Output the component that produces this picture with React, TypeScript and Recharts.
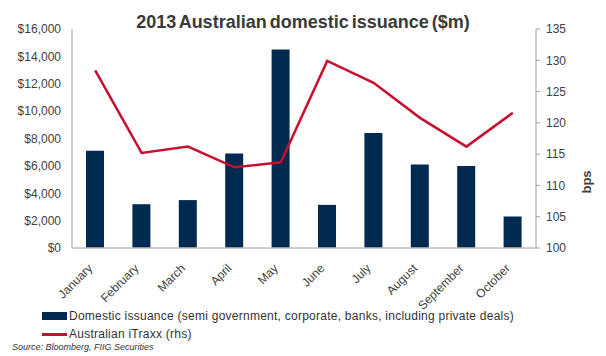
import React from "react";
import { ComposedChart, Bar, Line, XAxis, YAxis } from "recharts";

const months = ["January", "February", "March", "April", "May", "June", "July", "August", "September", "October"];
const issuance = [7100, 3200, 3500, 6900, 14500, 3150, 8400, 6100, 6000, 2300];
const itraxx = [128.4, 115.2, 116.2, 112.9, 113.7, 129.9, 126.4, 120.8, 116.2, 121.6];
const leftTicks = [0, 2000, 4000, 6000, 8000, 10000, 12000, 14000, 16000];
const rightTicks = [100, 105, 110, 115, 120, 125, 130, 135];
const seriesNames = [
  "Domestic issuance (semi government, corporate, banks, including private deals)",
  "Australian iTraxx  (rhs)",
];
const title = "2013 Australian domestic issuance ($m)";
const source = "Source: Bloomberg,  FIIG Securities";

const data = months.map((m, i) => ({ month: m, issuance: issuance[i], itraxx: itraxx[i] }));

const FONT = "'Liberation Sans', Arial, sans-serif";
const NAVY = "#002A4F";
const RED = "#C8102E";

const XTick = (props: any) => {
  const { x, y, payload } = props;
  return (
    <g transform={`translate(${x - 2},${y + 13})`}>
      <text textAnchor="end" transform="rotate(-45)" fontSize={12} fill="#404040" fontFamily={FONT}>
        {payload.value}
      </text>
    </g>
  );
};

export default function App() {
  return (
    <div style={{ position: "absolute", left: 0, top: 0, width: 606, height: 356, background: "#fff", fontFamily: FONT }}>
      <ComposedChart width={606} height={356} data={data} margin={{ top: 29, right: 0, bottom: 48, left: 0 }}>
        <XAxis
          dataKey="month"
          height={60}
          interval={0}
          tick={<XTick />}
          tickLine={false}
          axisLine={{ stroke: "#BFBFBF", strokeWidth: 1.5 }}
        />
        <YAxis
          yAxisId="left"
          width={72}
          domain={[0, 16000]}
          ticks={leftTicks}
          interval={0}
          tickFormatter={(v: number) => "$" + v.toLocaleString("en-US")}
          tickLine={false}
          tickSize={0}
          tickMargin={11}
          axisLine={{ stroke: "#BFBFBF", strokeWidth: 1.5 }}
          tick={{ fontSize: 12, fill: "#404040", fontFamily: FONT }}
        />
        <YAxis
          yAxisId="right"
          orientation="right"
          width={70}
          domain={[100, 135]}
          ticks={rightTicks}
          interval={0}
          tickSize={4}
          tickMargin={6}
          tickLine={{ stroke: "#A0A0A0" }}
          axisLine={{ stroke: "#BFBFBF", strokeWidth: 1.5 }}
          tick={{ fontSize: 12, fill: "#404040", fontFamily: FONT }}
        />
        <Bar yAxisId="left" dataKey="issuance" fill={NAVY} barSize={18} isAnimationActive={false} />
        <Line
          yAxisId="right"
          dataKey="itraxx"
          stroke={RED}
          strokeWidth={2.5}
          dot={false}
          type="linear"
          isAnimationActive={false}
        />
      </ComposedChart>

      <div
        style={{
          position: "absolute",
          left: 0,
          width: 606,
          top: 11,
          textAlign: "center",
          fontSize: 18,
          fontWeight: "bold",
          color: "#3A3A3A",
          wordSpacing: -2,
          lineHeight: "22px",
        }}
      >
        {title}
      </div>

      <div
        style={{
          position: "absolute",
          left: 586,
          top: 182,
          transform: "translate(-50%,-50%) rotate(-90deg)",
          fontSize: 13,
          fontWeight: "bold",
          color: "#404040",
        }}
      >
        bps
      </div>

      <div style={{ position: "absolute", left: 42, top: 307, fontSize: 12, color: "#333", lineHeight: "18px", letterSpacing: 0.25 }}>
        {seriesNames.map((name, i) => (
          <div key={name} style={{ display: "flex", alignItems: "center", height: 18 }}>
            <span
              style={{
                display: "inline-block",
                width: 25,
                height: i === 0 ? 8 : 3,
                background: i === 0 ? NAVY : RED,
                marginRight: 2,
              }}
            />
            <span>{name}</span>
          </div>
        ))}
      </div>

      <div
        style={{
          position: "absolute",
          left: 12,
          top: 342,
          fontSize: 9,
          fontStyle: "italic",
          color: "#333",
        }}
      >
        {source}
      </div>
    </div>
  );
}
